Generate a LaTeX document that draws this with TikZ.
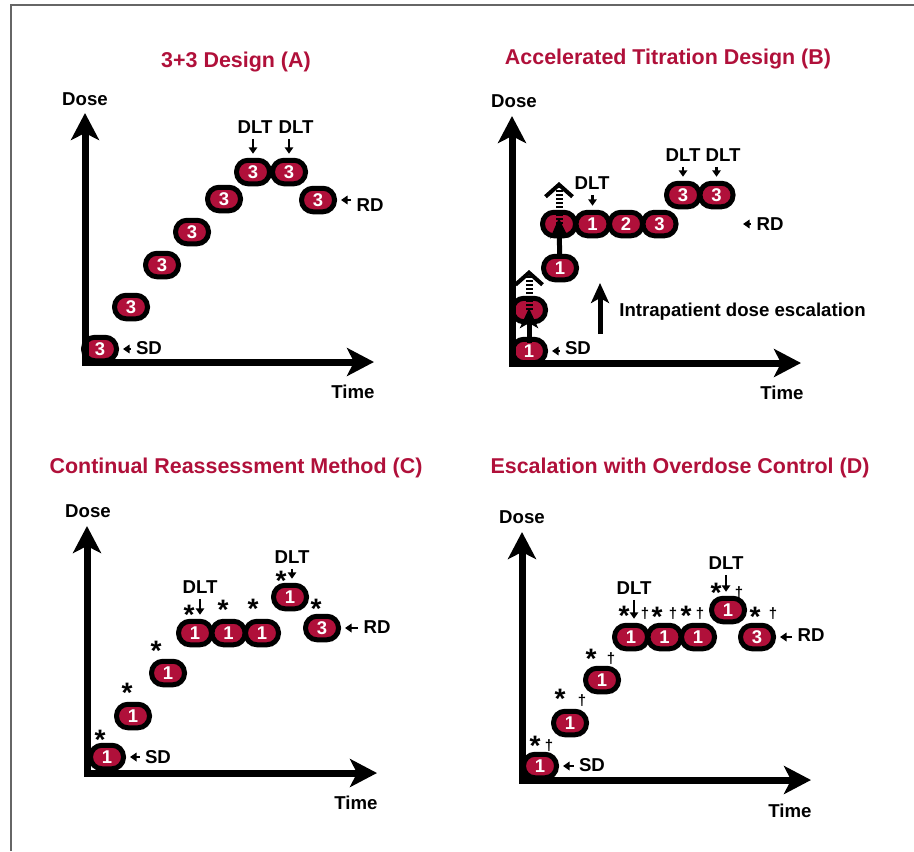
\documentclass[tikz,border=0pt]{standalone}
\usepackage{fontspec}
\setmainfont{Liberation Sans}
\usepackage{tikz}
\usetikzlibrary{arrows.meta}
\definecolor{wine}{RGB}{176,16,58}

\begin{document}
\begin{tikzpicture}[x=0.2mm,y=-0.2mm,node distance=6.7mm,
	dose/.style={draw,line width=1mm,fill=wine,rounded corners=2.3mm,minimum width=6.6mm,minimum height=4.7mm,inner sep=0pt,text=white,font=\bfseries\fontsize{10.5}{12}\selectfont},
	heading/.style={text=wine,font=\bfseries\fontsize{12.2}{14}\selectfont},
	lbl/.style={inner sep=0pt,font=\bfseries\fontsize{10.6}{12}\selectfont},
	ast/.style={inner sep=0pt,font=\bfseries\fontsize{16}{16}\selectfont},
	dag/.style={inner sep=0pt,font=\bfseries\fontsize{8.5}{9}\selectfont},
	doseaxis/.style={line width=1.4mm,{Stealth[length=5.4mm,width=5.6mm,inset=1.4mm]}-{Stealth[length=5.4mm,width=5.6mm,inset=1.4mm]}},
	pointer/.style={line width=0.45mm,-{Triangle[length=1.3mm,width=1.7mm]},shorten <=1mm,shorten >=0.8mm},
	escal/.style={line width=1mm,-{Stealth[length=4mm,width=3.6mm,inset=1mm]}},
	probe/.style={line width=1.4mm,dash pattern=on 0.4mm off 0.4mm,-{Straight Barb[sharp,length=2.4mm,width=5.4mm,line width=0.8mm]}}]
	\useasboundingbox (0,0) rectangle (914,851);
	\draw[gray!80!black,line width=0.3mm] (11,851) -- (11,5) -- (914,5);

	% 3+3
	\node[heading] (tA) at (236,62) {3+3 Design (A)};
	\node[dose] (pA1) at (100,349) {3};
	\node[dose] (pA2) at (131,307) {3};
	\node[dose] (pA3) at (162,265) {3};
	\node[dose] (pA4) at (192,232) {3};
	\node[dose] (pA5) at (224,199) {3};
	\node[dose] (pA6) at (253,172) {3};
	\node[dose] (pA7) [right of=pA6, node distance=7.2mm] {3};
	\node[dose] (pA8) at (318,200) {3};
	\coordinate (oA) at (85,362);
	\coordinate (yA) at (85,113);
	\coordinate (xA) at (374,362);
	\draw[doseaxis] (yA) -- (oA) -- (xA);
	\node[lbl] (doseA) at (85,99) {Dose};
	\node[lbl] (timeA) at (353,392) {Time};
	\node[lbl] (dA1) at (255,127) {DLT};
	\node[lbl] (dA2) at (296,127) {DLT};
	\node[lbl] (sdA) at (149,348) {SD};
	\node[lbl] (rdA) at (370,205) {RD};
	\draw[pointer] (pA6 |- dA1.south) -- (pA6.north);
	\draw[pointer] (pA7 |- dA2.south) -- (pA7.north);
	\draw[pointer] (pA1 -| sdA.west) -- (pA1.east);
	\draw[pointer] (pA8 -| rdA.west) -- (pA8.east);

	% accelerated titration
	\node[heading] (tB) at (668,59) {Accelerated Titration Design (B)};
	\node[dose] (pB1) at (529,351) {1};
	\node[dose] (pB2) at (529,310) {};
	\node[dose] (pB3) at (560,268) {1};
	\node[dose] (pB4) at (559,224) {};
	\node[dose] (pB5) [right of=pB4] {1};
	\node[dose] (pB6) [right of=pB5] {2};
	\node[dose] (pB7) [right of=pB6] {3};
	\node[dose] (pB8) at (683,195) {3};
	\node[dose] (pB9) [right of=pB8] {3};
	\coordinate (oB) at (512,363);
	\coordinate (yB) at (512,116);
	\coordinate (xB) at (801,363);
	\draw[doseaxis] (yB) -- (oB) -- (xB);
	\coordinate (uB1) at (529,270);
	\coordinate (uB2) at (559,182);
	\draw[probe] (pB2.center) -- (uB1);
	\draw[probe] (pB4.center) -- (uB2);
	\draw[escal,shorten <=1.6mm,shorten >=-0.4mm] (pB1.center) -- (pB2.center);
	\draw[escal,shorten <=2mm,shorten >=-1.2mm] (pB3.center) -- (pB4.center);
	\node[lbl] (doseB) at (514,101) {Dose};
	\node[lbl] (timeB) at (782,393) {Time};
	\node[lbl] (dB1) at (592,183) {DLT};
	\node[lbl] (dB2) at (683,155) {DLT};
	\node[lbl] (dB3) at (723,155) {DLT};
	\node[lbl] (sdB) at (578,348) {SD};
	\node[lbl] (rdB) at (770,224) {RD};
	\coordinate (rdBend) at (739,224);
	\draw[pointer] (pB5 |- dB1.south) -- (pB5.north);
	\draw[pointer] (pB8 |- dB2.south) -- (pB8.north);
	\draw[pointer] (pB9 |- dB3.south) -- (pB9.north);
	\draw[pointer] (pB1 -| sdB.west) -- (pB1.east);
	\draw[pointer] (rdBend -| rdB.west) -- (rdBend);
	\coordinate (lgB1) at (600,334);
	\coordinate (lgB2) at (600,283);
	\draw[escal] (lgB1) -- (lgB2);
	\node[lbl,anchor=west] (lgB) at (619,312) {Intrapatient dose escalation};

	% continual reassessment
	\node[heading] (tC) at (236,468) {Continual Reassessment Method (C)};
	\node[dose] (pC1) at (107,757) {1};
	\node[dose] (pC2) at (133,716) {1};
	\node[dose] (pC3) at (168,673) {1};
	\node[dose] (pC4) at (195,633) {1};
	\node[dose] (pC5) [right of=pC4] {1};
	\node[dose] (pC6) [right of=pC5] {1};
	\node[dose] (pC7) at (290,597) {1};
	\node[dose] (pC8) at (322,628) {3};
	\coordinate (oC) at (87,773);
	\coordinate (yC) at (87,526);
	\coordinate (xC) at (377,773);
	\draw[doseaxis] (yC) -- (oC) -- (xC);
	\node[ast] (aC1) at (100,740) {*};
	\node[ast] (aC2) at (127,693) {*};
	\node[ast] (aC3) at (156,651) {*};
	\node[ast] (aC4) at (189,615) {*};
	\node[ast] (aC5) at (223,610) {*};
	\node[ast] (aC6) at (253,609) {*};
	\node[ast] (aC7) at (281,581) {*};
	\node[ast] (aC8) at (316,609) {*};
	\node[lbl] (doseC) at (88,511) {Dose};
	\node[lbl] (timeC) at (356,803) {Time};
	\node[lbl] (dC1) at (200,587) {DLT};
	\node[lbl] (dC2) at (292,557) {DLT};
	\node[lbl] (sdC) at (158,757) {SD};
	\node[lbl] (rdC) at (377,627) {RD};
	\draw[pointer] (dC1.south) -- (dC1.south |- pC4.north);
	\draw[pointer] (dC2.south) -- (dC2.south |- pC7.north);
	\draw[pointer] (pC1 -| sdC.west) -- (pC1.east);
	\draw[pointer] (pC8 -| rdC.west) -- (pC8.east);

	% overdose control
	\node[heading] (tD) at (680,468) {Escalation with Overdose Control (D)};
	\node[dose] (pD1) at (540,766) {1};
	\node[dose] (pD2) at (570,723) {1};
	\node[dose] (pD3) at (602,680) {1};
	\node[dose] (pD4) at (631,637) {1};
	\node[dose] (pD5) [right of=pD4] {1};
	\node[dose] (pD6) [right of=pD5] {1};
	\node[dose] (pD7) at (728,610) {1};
	\node[dose] (pD8) at (757,637) {3};
	\coordinate (oD) at (522,780);
	\coordinate (yD) at (522,532);
	\coordinate (xD) at (811,780);
	\draw[doseaxis] (yD) -- (oD) -- (xD);
	\node[ast] (aD1) at (535,746) {*};
	\node[ast] (aD2) at (560,699) {*};
	\node[ast] (aD3) at (591,659) {*};
	\node[ast] (aD4) at (624,616) {*};
	\node[ast] (aD5) at (657,617) {*};
	\node[ast] (aD6) at (686,616) {*};
	\node[ast] (aD7) at (716,593) {*};
	\node[ast] (aD8) at (755,617) {*};
	\node[dag] (gD1) at (549,746) {†};
	\node[dag] (gD2) at (582,701) {†};
	\node[dag] (gD3) at (611,659) {†};
	\node[dag] (gD4) at (645,614) {†};
	\node[dag] (gD5) at (673,614) {†};
	\node[dag] (gD6) at (700,614) {†};
	\node[dag] (gD7) at (739,593) {†};
	\node[dag] (gD8) at (773,614) {†};
	\node[lbl] (doseD) at (522,517) {Dose};
	\node[lbl] (timeD) at (790,811) {Time};
	\node[lbl] (dD1) at (634,588) {DLT};
	\node[lbl] (dD2) at (726,563) {DLT};
	\node[lbl] (sdD) at (592,765) {SD};
	\node[lbl] (rdD) at (811,635) {RD};
	\draw[pointer] (dD1.south) -- (dD1.south |- pD4.north);
	\draw[pointer] (dD2.south) -- (dD2.south |- pD7.north);
	\draw[pointer] (pD1 -| sdD.west) -- (pD1.east);
	\draw[pointer] (pD8 -| rdD.west) -- (pD8.east);
\end{tikzpicture}
\end{document}
